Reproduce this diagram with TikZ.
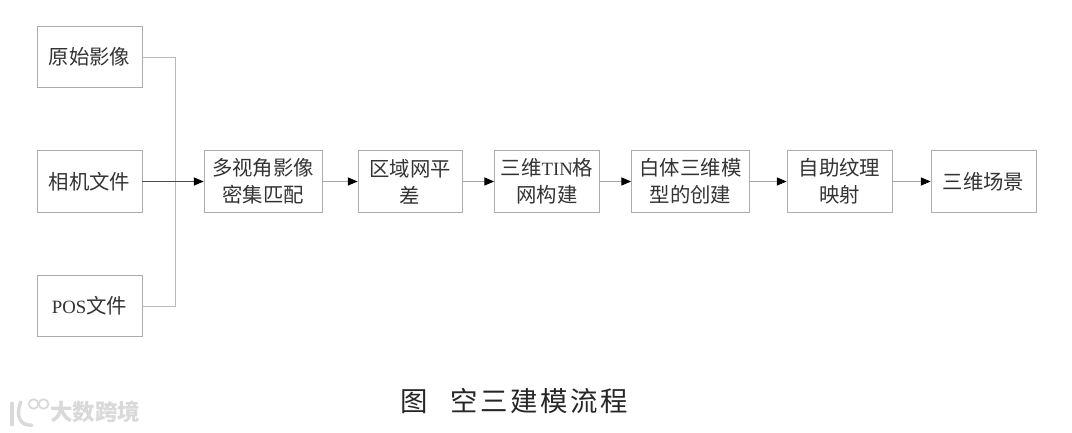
\documentclass[tikz,border=0pt]{standalone}
\usepackage{fontspec}
\newfontfamily\cjk{Noto Sans CJK SC}
\newfontfamily\latn[Scale=0.92]{Liberation Serif}
\usetikzlibrary{arrows.meta}

\begin{document}
\begin{tikzpicture}[>={Triangle[length=2.4mm, width=2mm, black]}]

\useasboundingbox (0,0) rectangle (26.8,10.8);

\tikzset{
  flowbox/.style={draw=gray!65, line width=0.6pt, minimum height=1.54cm, align=center,
                  inner sep=0pt, text=black!80, font=\cjk\fontsize{14.5}{19}\selectfont},
  srcbox/.style={flowbox, minimum width=2.625cm},
  widebox/.style={flowbox, minimum width=2.95cm},
  flowline/.style={->, draw=gray!70, line width=0.6pt},
  markline/.style={draw=gray!30, line cap=round}
}

% inputs
\node[srcbox] (image)  at (2.2375,9.375)  {原始影像};
\node[srcbox] (camera) at (2.2375,6.2625) {相机文件};
\node[srcbox] (pos)    at (2.2375,3.15)   {{\latn POS}文件};

% main chain
\node[widebox] (match)   at (6.575,6.2625)   {多视角影像\\密集匹配};
\node[flowbox, minimum width=2.6cm] (adjust) at (10.25,6.2625) {区域网平\\差};
\node[srcbox]  (tin)     at (13.675,6.2625)  {三维{\latn TIN}格\\网构建};
\node[widebox] (white)   at (17.2625,6.2625) {白体三维模\\型的创建};
\node[srcbox]  (texture) at (20.9875,6.2625) {自助纹理\\映射};
\node[srcbox]  (scene)   at (24.5875,6.2625) {三维场景};

\coordinate (join) at (4.39,6.2625);

\draw[draw=gray!55, line width=0.6pt] (image.east) -| (join);
\draw[draw=gray!55, line width=0.6pt] (pos.east) -| (join);
\draw[->, draw=black!70, line width=0.7pt] (camera) -- (match);
\draw[flowline] (match) -- (adjust);
\draw[flowline] (adjust) -- (tin);
\draw[flowline] (tin) -- (white);
\draw[flowline] (white) -- (texture);
\draw[flowline] (texture) -- (scene);

% caption
\node[inner sep=0pt, text=black!85, font=\cjk\fontsize{19.5}{24}\selectfont] (caption) at (12.8625,0.775)
  {\addfontfeature{LetterSpace=10}图\hspace{0.8em}空三建模流程};

% watermark
\node[inner sep=0pt, text=gray!30, font=\cjk\bfseries\fontsize{16}{18}\selectfont] (mark) at (2.375,0.51) {大数跨境};
\draw[markline, line width=2.4pt] (0.3,0.72) -- (0.3,0.18);
\draw[markline, line width=2.4pt] (0.52,0.75) .. controls (0.38,0.4) and (0.5,0.15) .. (0.8,0.17);
\draw[markline, line width=1.3pt] (0.84,0.7) circle (0.12);
\draw[markline, line width=1.3pt] (1.09,0.7) circle (0.12);

\end{tikzpicture}
\end{document}
